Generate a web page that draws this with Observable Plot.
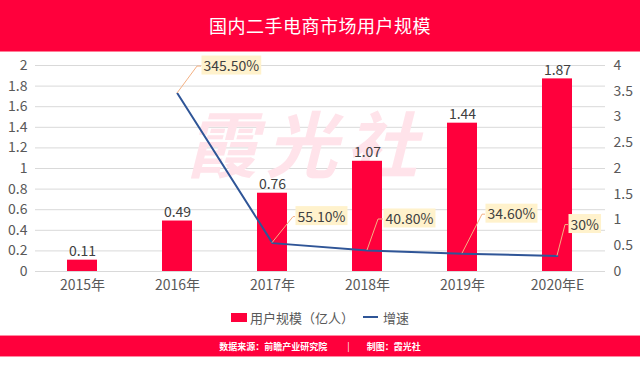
<!DOCTYPE html>
<html><head><meta charset="utf-8">
<script src="https://cdn.jsdelivr.net/npm/d3@7"></script>
<script src="https://cdn.jsdelivr.net/npm/@observablehq/plot@0.6"></script>
<style>
body{margin:0;background:#fff;font-family:"Noto Sans CJK SC","Noto Sans",sans-serif;}
#wrap{position:relative;width:640px;height:367px;overflow:hidden;background:#fff;}
#title{position:absolute;left:0;top:0;width:640px;height:52px;background:#FF003C;border-bottom:1px solid #ff7d97;box-sizing:border-box;color:#fff;font-size:18px;line-height:51px;text-align:center;letter-spacing:0.5px;}
#chart{position:absolute;left:0;top:52px;}
#legend{position:absolute;left:0;top:307px;width:640px;height:20px;display:flex;align-items:center;justify-content:center;font-size:13px;color:#595959;}
#legend .sw{display:inline-block;width:16px;height:9px;background:#FF003C;margin-right:3px;}
#legend .ln{display:inline-block;width:15px;height:2px;background:#2F5597;margin-left:9px;margin-right:5px;}
#footer{position:absolute;left:0;top:335px;width:640px;height:22px;background:#FF003C;border-top:1px solid #ff8aa2;border-bottom:1px solid #ff8aa2;box-sizing:border-box;color:#fff;font-size:9px;font-weight:bold;display:flex;align-items:center;justify-content:center;}
#footer .sep{margin:0 17px 0 20px;font-weight:normal;}
</style></head>
<body><div id="wrap">
<div id="title">国内二手电商市场用户规模</div>
<div id="chart"></div>
<div id="legend"><span class="sw"></span><span>用户规模（亿人）</span><span class="ln"></span><span>增速</span></div>
<div id="footer"><span>数据来源：前瞻产业研究院</span><span class="sep">|</span><span>制图：霞光社</span></div>
</div>
<script>
const years = ["2015年","2016年","2017年","2018年","2019年","2020年E"];
const users = [0.11,0.49,0.76,1.07,1.44,1.87];
const growthYears = ["2016年","2017年","2018年","2019年","2020年E"];
const growth = [345.5,55.1,40.8,34.6,30];
const growthLabels = ["345.50%","55.10%","40.80%","34.60%","30%"];
const leftTicks = [0,0.2,0.4,0.6,0.8,1,1.2,1.4,1.6,1.8,2];
const rightTicks = [0,0.5,1,1.5,2,2.5,3,3.5,4];
const rightScale = 2; // right axis max 4 vs left 2
const watermark = "霞光社";

const bars = years.map((year,i)=>({year, value: users[i]}));
const rates = growthYears.map((year,i)=>({year, rate: growth[i]/100, y: growth[i]/100/rightScale, label: growthLabels[i]}));

// callout offsets (elbow x, box-center y, box-left x) relative to point
const callouts = [
  {ex:20, ey:-27, bx:24},
  {ex:21, ey:-26, bx:23},
  {ex:11, ey:-31, bx:16},
  {ex:20, ey:-39, bx:23},
  {ex:8, ey:-31, bx:11}
];

const RED = "#FF003C";
const plot = Plot.plot({
  width: 640,
  height: 249,
  marginTop: 13,
  marginBottom: 30,
  marginLeft: 35,
  marginRight: 35,
  style: {fontFamily: '"Noto Sans CJK SC", sans-serif', color: "#595959", background: "transparent"},
  x: {domain: years, paddingInner: 0.684, paddingOuter: 0.342, label: null},
  y: {domain: [0, 2], label: null},
  marks: [
    Plot.gridY({ticks: leftTicks, stroke: "#d9d9d9", strokeOpacity: 1}),
    Plot.text([watermark], {text: d => d, frameAnchor: "middle", dx: -15, dy: -20, fontSize: 72, fontWeight: "bold", fontStyle: "italic", fill: "#FFE3EA"}),
    Plot.barY(bars, {x: "year", y: "value", fill: RED}),
    Plot.line(rates, {x: "year", y: "y", stroke: "#2F5597", strokeWidth: 2}),
    Plot.text(bars, {x: "year", y: "value", text: d => d.value.toFixed(2), lineAnchor: "bottom", dy: -4, fontSize: 14, fill: "#404040"}),
    ...rates.map((r, i) => Plot.text([r], {x: "year", y: "y", text: "label", dx: callouts[i].bx + 2, dy: callouts[i].ey, textAnchor: "start", fontSize: 14, fill: "#404040"})),
    Plot.axisY({anchor: "left", ticks: leftTicks, tickSize: 0, tickPadding: 8, fontSize: 14, tickFormat: d => String(+d.toFixed(1)), label: null}),
    Plot.axisY({anchor: "right", ticks: rightTicks.map(v => v / rightScale), tickSize: 0, tickPadding: 8, fontSize: 14, tickFormat: d => String(+(d * rightScale).toFixed(1)), label: null}),
    Plot.axisX({tickSize: 0, tickPadding: 9, fontSize: 14, label: null})
  ]
});
document.getElementById("chart").appendChild(plot);

const svg = d3.select(plot);
const allText = svg.selectAll("text");
// watermark letter spacing
allText.filter(function() { return this.textContent === watermark; }).style("letter-spacing", "8px");

// label boxes and leader lines
const calloutTexts = allText.filter(function() { return growthLabels.includes(this.textContent); });
const firstGroup = calloutTexts.size() ? calloutTexts.node().parentNode : null;
const leaders = d3.select(plot.insertBefore(document.createElementNS("http://www.w3.org/2000/svg", "g"), firstGroup));
const sx = plot.scale("x"), sy = plot.scale("y");
rates.forEach((r, i) => {
  const px = sx.apply(r.year) + sx.bandwidth / 2;
  const py = sy.apply(r.y);
  const o = callouts[i];
  leaders.append("polyline")
    .attr("points", `${px},${py} ${px + o.ex},${py + o.ey} ${px + o.bx},${py + o.ey}`)
    .attr("fill", "none").attr("stroke", "#F4B183").attr("stroke-width", 1);
});
calloutTexts.each(function() {
  const bb = this.getBBox();
  const rect = document.createElementNS("http://www.w3.org/2000/svg", "rect");
  rect.setAttribute("x", bb.x - 2);
  rect.setAttribute("y", bb.y + bb.height / 2 - 9.5);
  rect.setAttribute("width", bb.width + 4);
  rect.setAttribute("height", 19);
  rect.setAttribute("fill", "#FFF2CC");
  if (this.getAttribute("transform")) rect.setAttribute("transform", this.getAttribute("transform"));
  this.parentNode.insertBefore(rect, this);
});
</script>
</body></html>
